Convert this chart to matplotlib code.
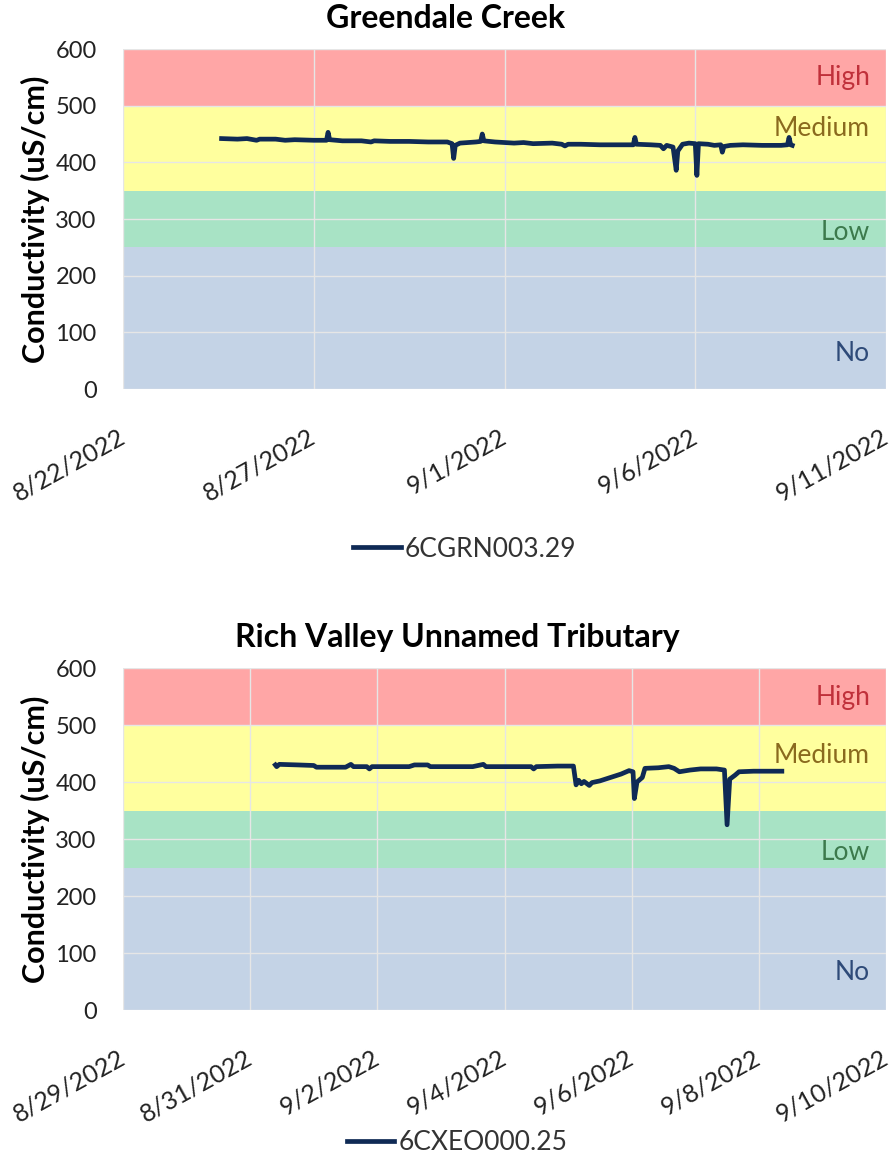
import matplotlib
matplotlib.use("Agg")
import matplotlib.pyplot as plt
import pandas as pd

plt.rcParams['font.family'] = ['Lato', 'DejaVu Sans']

# conductivity bands (uS/cm)
band_names = ['No', 'Low', 'Medium', 'High']
band_lo = [0, 250, 350, 500]
band_hi = [250, 350, 500, 600]
band_colors = ['#C4D3E6', '#A8E3C5', '#FFFF9E', '#FFA6A6']
label_colors = ['#2E4A78', '#3C7A4C', '#8A6A1E', '#C0303A']
grn_label_y = [63, 276, 460, 549]
cxe_label_y = [65, 276, 446, 549]

# Greendale Creek
grn_name = '6CGRN003.29'
grn_time = ['2022-08-24 14:00', '2022-08-25 00:00', '2022-08-25 06:00', '2022-08-25 12:00',
            '2022-08-25 14:00', '2022-08-26 00:00', '2022-08-26 06:00', '2022-08-26 12:00',
            '2022-08-27 00:00', '2022-08-27 08:00', '2022-08-27 09:00', '2022-08-27 10:00',
            '2022-08-27 18:00', '2022-08-28 06:00', '2022-08-28 12:00', '2022-08-28 14:00',
            '2022-08-29 00:00', '2022-08-29 12:00', '2022-08-30 00:00', '2022-08-30 12:00',
            '2022-08-30 15:00', '2022-08-30 16:00', '2022-08-30 17:00', '2022-08-30 20:00',
            '2022-08-31 06:00', '2022-08-31 09:00', '2022-08-31 10:00', '2022-08-31 11:00',
            '2022-08-31 18:00', '2022-09-01 00:00', '2022-09-01 06:00', '2022-09-01 12:00',
            '2022-09-01 18:00', '2022-09-02 06:00', '2022-09-02 12:00', '2022-09-02 14:00',
            '2022-09-02 16:00', '2022-09-03 00:00', '2022-09-03 12:00', '2022-09-04 00:00',
            '2022-09-04 09:00', '2022-09-04 10:00', '2022-09-04 11:00', '2022-09-04 20:00',
            '2022-09-05 02:00', '2022-09-05 04:00', '2022-09-05 06:00', '2022-09-05 10:00',
            '2022-09-05 12:00', '2022-09-05 13:00', '2022-09-05 16:00', '2022-09-05 20:00',
            '2022-09-06 00:00', '2022-09-06 01:00', '2022-09-06 02:00', '2022-09-06 08:00',
            '2022-09-06 12:00', '2022-09-06 16:00', '2022-09-06 17:00', '2022-09-06 18:00',
            '2022-09-06 22:00', '2022-09-07 06:00', '2022-09-07 18:00', '2022-09-08 06:00',
            '2022-09-08 10:00', '2022-09-08 11:00', '2022-09-08 12:00', '2022-09-08 13:00']
grn_cond = [442, 441, 442, 439,
            441, 441, 439, 440,
            439, 439, 453, 440,
            438, 438, 436, 438,
            437, 437, 436, 436,
            433, 407, 430, 434,
            436, 437, 450, 438,
            436, 435, 434, 435,
            433, 434, 432, 429,
            432, 432, 431, 431,
            431, 444, 432, 431,
            430, 424, 430, 427,
            386, 420, 432, 434,
            433, 377, 433, 432,
            430, 431, 418, 428,
            430, 431, 430, 430,
            431, 444, 431, 430]

# Rich Valley Unnamed Tributary
cxe_name = '6CXEO000.25'
cxe_time = ['2022-08-31 09:30', '2022-08-31 10:00', '2022-08-31 11:00', '2022-08-31 18:00',
            '2022-09-01 00:00', '2022-09-01 01:00', '2022-09-01 12:00', '2022-09-01 14:00',
            '2022-09-01 15:00', '2022-09-01 20:00', '2022-09-01 21:00', '2022-09-01 22:00',
            '2022-09-02 12:00', '2022-09-02 14:00', '2022-09-02 19:00', '2022-09-02 20:00',
            '2022-09-03 12:00', '2022-09-03 16:00', '2022-09-03 17:00', '2022-09-04 06:00',
            '2022-09-04 10:00', '2022-09-04 11:00', '2022-09-04 12:00', '2022-09-04 20:00',
            '2022-09-05 02:00', '2022-09-05 03:00', '2022-09-05 04:00', '2022-09-05 05:00',
            '2022-09-05 06:00', '2022-09-05 08:00', '2022-09-05 09:00', '2022-09-05 12:00',
            '2022-09-05 16:00', '2022-09-05 20:00', '2022-09-05 23:00', '2022-09-06 00:30',
            '2022-09-06 01:00', '2022-09-06 02:00', '2022-09-06 04:00', '2022-09-06 05:00',
            '2022-09-06 10:00', '2022-09-06 14:00', '2022-09-06 16:00', '2022-09-06 18:00',
            '2022-09-06 22:00', '2022-09-07 02:00', '2022-09-07 08:00', '2022-09-07 11:00',
            '2022-09-07 12:00', '2022-09-07 13:00', '2022-09-07 15:00', '2022-09-07 16:30',
            '2022-09-07 22:00', '2022-09-08 04:00', '2022-09-08 08:40']
cxe_cond = [430, 427, 431, 430,
            429, 426, 426, 431,
            427, 427, 423, 427,
            427, 430, 430, 427,
            427, 431, 427, 427,
            427, 423, 427, 428,
            428, 395, 403, 397,
            401, 394, 399, 402,
            408, 414, 420, 418,
            371, 400, 408, 424,
            425, 427, 424, 418,
            421, 423, 423, 421,
            325, 405, 412, 418,
            419, 419, 419]

charts = [
    ('Greendale Creek', grn_name, grn_time, grn_cond, grn_label_y, '2022-08-22', '2022-09-11', 5,
     [0.1376, 0.6652, 0.8535, 0.2926], 0.498, 0.984, 0.52, 0.5275),
    ('Rich Valley Unnamed Tributary', cxe_name, cxe_time, cxe_cond, cxe_label_y, '2022-08-29', '2022-09-10', 2,
     [0.1376, 0.1308, 0.8535, 0.2943], 0.511, 0.451, 0.511, 0.0164),
]

fig = plt.figure(figsize=(8.94, 11.62), dpi=100)

for title, name, times, cond, label_y, x0, x1, step, rect, tx, ty, lx, ly in charts:
    ax = fig.add_axes(rect)
    t = pd.to_datetime(times)
    for lo, hi, c in zip(band_lo, band_hi, band_colors):
        ax.axhspan(lo, hi, color=c, lw=0, zorder=0)
    ax.plot(t, cond, color='#0F2A55', lw=3.4, solid_joinstyle='round', zorder=3, label=name)
    ax.set_xlim(pd.Timestamp(x0), pd.Timestamp(x1))
    ax.set_ylim(0, 600)
    ax.set_yticks(range(0, 601, 100))
    ticks = pd.date_range(x0, x1, freq=f'{step}D')
    ax.set_xticks(ticks)
    ax.set_xticklabels([f'{d.month}/{d.day}/{d.year}' for d in ticks], rotation=29,
                       ha='right', va='center', rotation_mode='anchor', fontsize=18, color='#222222')
    ax.tick_params(axis='x', length=0, pad=33)
    ax.tick_params(axis='y', length=0, pad=19, labelsize=17, labelcolor='#222222')
    ax.grid(True, color='#E6E6E6', lw=1, zorder=1)
    ax.set_axisbelow(False)
    for sp in ax.spines.values():
        sp.set_visible(False)
    for nm, yv, c in zip(band_names, label_y, label_colors):
        ax.text(0.979, yv, nm, transform=ax.get_yaxis_transform(), ha='right', va='center',
                fontsize=19, color=c, zorder=4)
    ax.set_ylabel('Conductivity (uS/cm)', fontsize=22, fontweight='bold', labelpad=4)
    fig.text(tx, ty, title, ha='center', va='center', fontsize=23, fontweight='bold')
    fig.legend(handles=ax.get_lines(), loc='center', bbox_to_anchor=(lx, ly), frameon=False,
               fontsize=19, handlelength=1.8, handletextpad=0.15, labelcolor='#333333')

fig.savefig('out.png', dpi=100)
